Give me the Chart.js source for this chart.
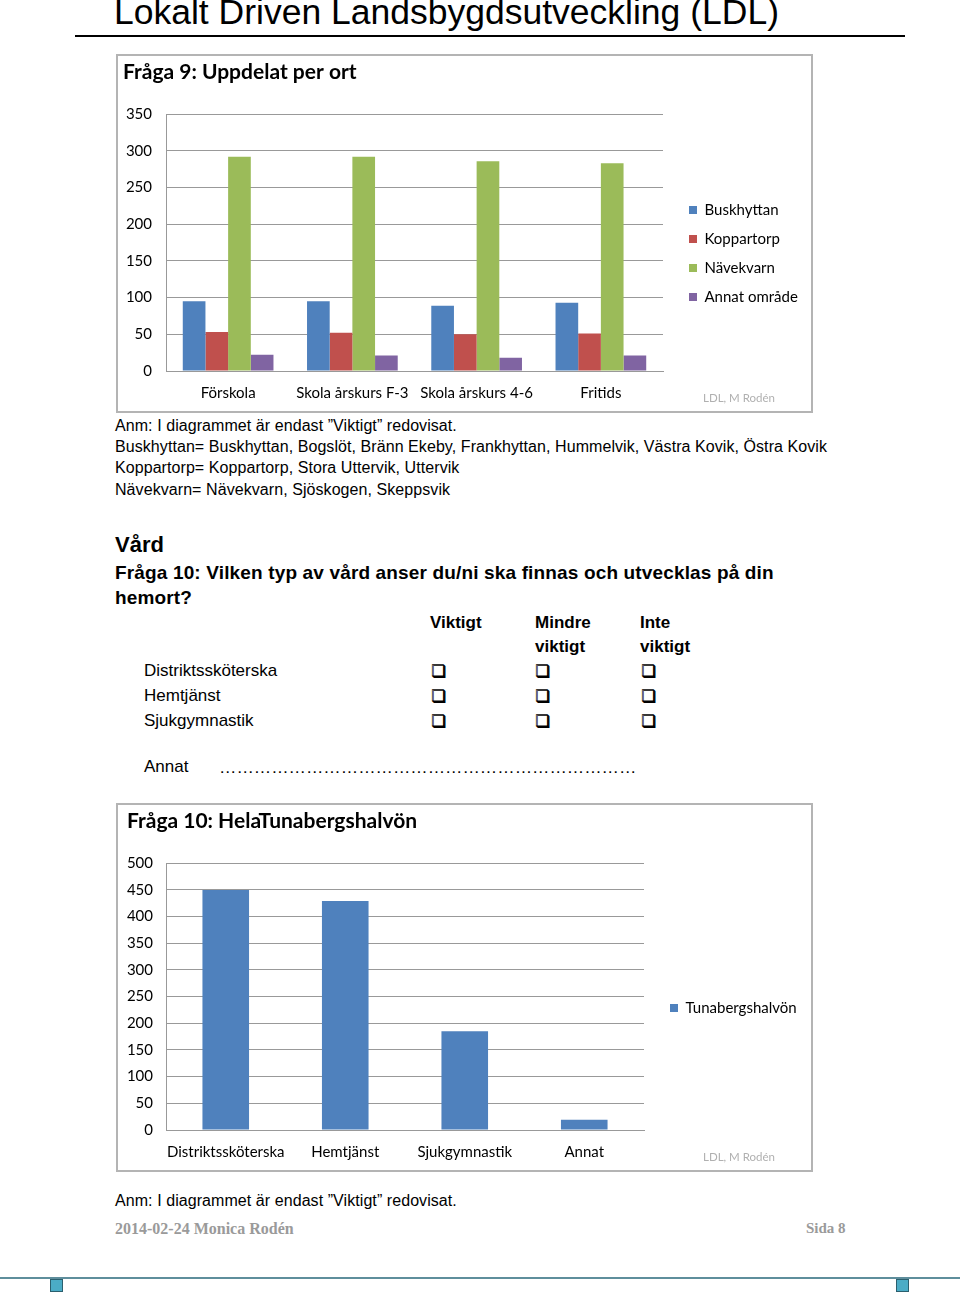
<!DOCTYPE html>
<html><head><meta charset="utf-8">
<script src="https://cdn.jsdelivr.net/npm/chart.js@4.4.1/dist/chart.umd.min.js"></script>
<style>
html,body{margin:0;padding:0;background:#fff;}
body{width:960px;height:1292px;position:relative;overflow:hidden;font-family:"Liberation Sans",Arial,sans-serif;color:#000;}
.a{position:absolute;white-space:nowrap;}
.t{font-size:16px;line-height:20px;letter-spacing:0.07px;}
.frame{position:absolute;border:2px solid #b4b4b4;box-sizing:border-box;}
.src{position:absolute;font-family:Lato,sans-serif;font-size:11.5px;color:#b0b0b0;white-space:nowrap;}
.cb{font-family:"DejaVu Sans";font-size:16px;text-shadow:1px 1px 0 #000;}
</style></head><body>
<div class="a" style="left:114px;top:-8px;font-size:35.5px;line-height:40px;">Lokalt Driven Landsbygdsutveckling (LDL)</div>
<div class="a" style="left:75px;top:35px;width:830px;height:2px;background:#000;"></div>

<div class="frame" style="left:116px;top:54px;width:697px;height:359px;"></div>
<canvas id="c1" class="a" width="694" height="356" style="left:117px;top:55px;"></canvas>
<div class="src" style="left:703px;top:391px;">LDL, M Rodén</div>

<div class="a t" style="left:115px;top:416px;">Anm: I diagrammet är endast ”Viktigt” redovisat.</div>
<div class="a t" style="left:115px;top:437px;">Buskhyttan= Buskhyttan, Bogslöt, Bränn Ekeby, Frankhyttan, Hummelvik, Västra Kovik, Östra Kovik</div>
<div class="a t" style="left:115px;top:458px;">Koppartorp= Koppartorp, Stora Uttervik, Uttervik</div>
<div class="a t" style="left:115px;top:480px;">Nävekvarn= Nävekvarn, Sjöskogen, Skeppsvik</div>

<div class="a" style="left:115px;top:531px;font-size:22px;line-height:28px;font-weight:bold;">Vård</div>
<div class="a" style="left:115px;top:561px;font-size:19px;line-height:24px;font-weight:bold;letter-spacing:0.15px;">Fråga 10: Vilken typ av vård anser du/ni ska finnas och utvecklas på din</div>
<div class="a" style="left:115px;top:586px;font-size:19px;line-height:24px;font-weight:bold;letter-spacing:0.15px;">hemort?</div>

<div class="a" style="left:430px;top:611px;font-size:17px;line-height:24px;font-weight:bold;">Viktigt</div>
<div class="a" style="left:535px;top:611px;font-size:17px;line-height:24px;font-weight:bold;">Mindre<br>viktigt</div>
<div class="a" style="left:640px;top:611px;font-size:17px;line-height:24px;font-weight:bold;">Inte<br>viktigt</div>
<div class="a" style="left:144px;top:658px;font-size:17px;line-height:25px;">Distriktssköterska<br>Hemtjänst<br>Sjukgymnastik</div>
<div class="a cb" style="left:431px;top:658px;line-height:25px;">❑<br>❑<br>❑</div>
<div class="a cb" style="left:535px;top:658px;line-height:25px;">❑<br>❑<br>❑</div>
<div class="a cb" style="left:641px;top:658px;line-height:25px;">❑<br>❑<br>❑</div>
<div class="a" style="left:144px;top:756px;font-size:17px;line-height:22px;">Annat</div>
<div class="a" style="left:219px;top:756px;font-size:17.4px;line-height:22px;">………………………………………………………………</div>

<div class="frame" style="left:116px;top:803px;width:697px;height:369px;"></div>
<canvas id="c2" class="a" width="687" height="366" style="left:124px;top:804px;"></canvas>
<div class="src" style="left:703px;top:1150px;">LDL, M Rodén</div>

<div class="a t" style="left:115px;top:1191px;">Anm: I diagrammet är endast ”Viktigt” redovisat.</div>
<div class="a" style="left:115px;top:1220px;font-family:'Liberation Serif',serif;font-weight:bold;font-size:16px;color:#9a9a9a;">2014-02-24 Monica Rodén</div>
<div class="a" style="left:806px;top:1220px;font-family:'Liberation Serif',serif;font-weight:bold;font-size:15px;color:#9a9a9a;">Sida 8</div>
<div class="a" style="left:0;top:1277px;width:960px;height:2px;background:#5e8e9c;"></div>
<div class="a" style="left:50px;top:1279px;width:11px;height:11px;background:#4bacc6;border:1px solid #2b5f6e;"></div>
<div class="a" style="left:896px;top:1279px;width:11px;height:11px;background:#4bacc6;border:1px solid #2b5f6e;"></div>

<script>
// ---- Data: Fråga 9 ----
const q9Categories = ["Förskola", "Skola årskurs F-3", "Skola årskurs 4-6", "Fritids"];
const q9Series = ["Buskhyttan", "Koppartorp", "Nävekvarn", "Annat område"];
const q9Buskhyttan = [95, 95, 89, 93];
const q9Koppartorp = [53, 52, 50, 51];
const q9Navekvarn  = [292, 292, 286, 283];
const q9Annat      = [22, 21, 18, 21];
const q9Ticks = [0, 50, 100, 150, 200, 250, 300, 350];

// ---- Data: Fråga 10 ----
const q10Categories = ["Distriktssköterska", "Hemtjänst", "Sjukgymnastik", "Annat"];
const q10Series = ["Tunabergshalvön"];
const q10Values = [450, 429, 185, 19];
const q10Ticks = [0, 50, 100, 150, 200, 250, 300, 350, 400, 450, 500];

const FONT = "Lato";
const GRID = "#999999";
const LEG_FONT = 15, LEG_PAD = 14, LEG_BOX = 8;

// right layout padding so the legend (its natural width) starts where wanted
function rightPad(labels, target){
  const ctx = document.createElement("canvas").getContext("2d");
  ctx.font = LEG_FONT + "px " + FONT;
  const tw = Math.max(...labels.map(l => ctx.measureText(l).width));
  const W = LEG_PAD + LEG_BOX + LEG_FONT/2 + tw + 10;
  return Math.max(0, target - W);
}

function yAxis(ticks, width, pad){
  return {
    min: ticks[0], max: ticks[ticks.length-1],
    ticks: {stepSize: ticks[1]-ticks[0], color:"#000", font:{family:FONT,size:15}, padding:pad},
    grid: {color: GRID, drawTicks:false, lineWidth:1},
    border: {display:true, color: GRID},
    afterFit: s => { s.width = width; }
  };
}
function dummyAxis(w){
  return {position:"right", display:true, grid:{display:false, drawTicks:false}, border:{display:false},
          ticks:{display:false}, afterFit: s => { s.width = w; }};
}
function xAxis(){
  return {ticks:{color:"#000", font:{family:FONT,size:15}, padding:13, maxRotation:0, autoSkip:false},
          grid:{display:false, drawTicks:false}, border:{display:true, color:GRID},
          afterFit: s => { s.height = 32; }};
}
function legend(titleSpace){
  return {position:"right", align:"center", maxWidth:400,
          title:{display:true, text:"", font:{size:10, lineHeight:1}, padding:{top:titleSpace-10, bottom:0}},
          labels:{boxWidth:LEG_BOX, boxHeight:LEG_BOX, padding:LEG_PAD, color:"#000", font:{family:FONT,size:LEG_FONT}}};
}

const q9Colors = ["#4F81BD", "#C0504D", "#9BBB59", "#8064A2"];
const q9Data = [q9Buskhyttan, q9Koppartorp, q9Navekvarn, q9Annat];

new Chart(document.getElementById("c1"), {
  type: "bar",
  data: {
    labels: q9Categories,
    datasets: q9Series.map((s, i) => ({label:s, data:q9Data[i], backgroundColor:q9Colors[i]}))
  },
  options: {
    responsive:false, animation:false, devicePixelRatio:1,
    datasets:{bar:{categoryPercentage:0.73, barPercentage:1.0}},
    layout:{padding:{left:6, right:rightPad(q9Series, 136), top:0, bottom:8}},
    scales:{ x:xAxis(), y:yAxis(q9Ticks, 43, 14), y2:dummyAxis(12) },
    plugins:{
      title:{display:true, text:"Fråga 9: Uppdelat per ort", align:"start", color:"#000",
             font:{family:FONT, size:21, weight:"bold"}, padding:{top:5, bottom:29}},
      legend:legend(49),
      tooltip:{enabled:false}
    }
  }
});

new Chart(document.getElementById("c2"), {
  type: "bar",
  data: {
    labels: q10Categories,
    datasets: [ {label:q10Series[0], data:q10Values, backgroundColor:"#4F81BD"} ]
  },
  options: {
    responsive:false, animation:false, devicePixelRatio:1,
    datasets:{bar:{categoryPercentage:0.39, barPercentage:1.0}},
    layout:{padding:{left:3, right:rightPad(q10Series, 155), top:0, bottom:8}},
    scales:{ x:xAxis(), y:yAxis(q10Ticks, 39, 13), y2:dummyAxis(12) },
    plugins:{
      title:{display:true, text:"Fråga 10: HelaTunabergshalvön", align:"start", color:"#000",
             font:{family:FONT, size:21, weight:"bold"}, padding:{top:5, bottom:29}},
      legend:legend(50),
      tooltip:{enabled:false}
    }
  }
});
</script>
</body></html>
